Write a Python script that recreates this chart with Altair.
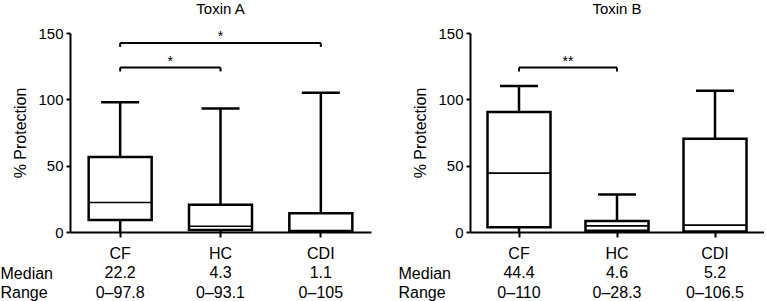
import altair as alt
import pandas as pd

FONT = "Liberation Sans"
groups = ["CF", "HC", "CDI"]

# Toxin A box statistics
a_min = [0, 0, 0]
a_q1 = [9, 1.5, 0.5]
a_median = [22.2, 4.3, 1.1]
a_q3 = [56.5, 20.5, 14.2]
a_max = [97.8, 93.1, 105]
a_median_txt = ["22.2", "4.3", "1.1"]
a_range_txt = ["0–97.8", "0–93.1", "0–105"]

# Toxin B box statistics
b_min = [0, 0, 0]
b_q1 = [3.5, 1.0, 0.3]
b_median = [44.4, 4.6, 5.2]
b_q3 = [90.5, 8.3, 70.2]
b_max = [110, 28.3, 106.5]
b_median_txt = ["44.4", "4.6", "5.2"]
b_range_txt = ["0–110", "0–28.3", "0–106.5"]

# significance brackets
a_br_start = ["CF", "CF"]
a_br_end = ["CDI", "HC"]
a_br_y = [142.5, 124]
a_br_label = ["*", "*"]

b_br_start = ["CF"]
b_br_end = ["HC"]
b_br_y = [124]
b_br_label = ["**"]

STAR_RAISE = 4.5
TICK_DROP = 3


def label_expr(med_txt, rng_txt):
    parts = []
    for g, m, r in zip(groups, med_txt, rng_txt):
        parts.append(f"datum.label == '{g}' ? ['{g}', '{m}', '{r}'] : ")
    return "".join(parts) + "datum.label"


def panel(title, mins, q1s, meds, q3s, maxs, med_txt, rng_txt,
          br_start, br_end, br_y, br_lab, width, height, row_title_x):
    df = pd.DataFrame({"group": groups, "min": mins, "q1": q1s,
                       "median": meds, "q3": q3s, "max": maxs})

    xscale = alt.Scale(type="band", domain=groups, paddingInner=0, paddingOuter=0)
    xaxis = alt.Axis(
        title=["Median", "Range"], titleX=row_title_x, titleY=46,
        titleAlign="left", titleBaseline="alphabetic", titleAngle=0,
        titleFontSize=16, titleFontWeight="normal", titleLineHeight=19.5,
        labelExpr=label_expr(med_txt, rng_txt), labelFontSize=16,
        labelLineHeight=19.5, labelPadding=8, labelAngle=0,
        labelAlign="center", labelBaseline="top",
        tickSize=5, tickWidth=2, domainWidth=2, grid=False,
    )
    yscale = alt.Scale(domain=[0, 150], nice=False, zero=True)
    yaxis = alt.Axis(
        values=[0, 50, 100, 150], title="% Protection", titleFontSize=16,
        titleFontWeight="normal", titlePadding=9, labelFontSize=15,
        tickSize=4, tickWidth=2, domainWidth=2, labelPadding=3, grid=False,
    )

    def X(field="group"):
        return alt.X(f"{field}:N", scale=xscale, axis=xaxis, sort=groups)

    def Y(field):
        return alt.Y(f"{field}:Q", scale=yscale, axis=yaxis)

    base = alt.Chart(df)
    boxes = base.mark_bar(width=63, fill="white", stroke="black", strokeWidth=2.5,
                          opacity=1).encode(x=X(), y=Y("q1"), y2="q3")
    upper = base.mark_rule(color="black", strokeWidth=2.5).encode(
        x=X(), y=Y("q3"), y2="max")
    lower = base.mark_rule(color="black", strokeWidth=2.5).encode(
        x=X(), y=Y("min"), y2="q1")
    caps = base.mark_tick(size=38, thickness=2.5, color="black", opacity=1).encode(
        x=X(), y=Y("max"))
    medians = base.mark_tick(size=63, thickness=1.6, color="black", opacity=1).encode(
        x=X(), y=Y("median"))

    br = pd.DataFrame({"start": br_start, "end": br_end, "y": br_y, "label": br_lab})
    bars_h = alt.Chart(br).mark_rule(color="black", strokeWidth=2).encode(
        x=alt.X("start:N", scale=xscale, axis=xaxis, sort=groups, bandPosition=0.5),
        x2=alt.X2("end:N", bandPosition=0.5),
        y=Y("y"))
    ends = pd.DataFrame({
        "cat": list(br_start) + list(br_end),
        "top": list(br_y) * 2,
    })
    ends["bot"] = ends["top"] - TICK_DROP
    bars_v = alt.Chart(ends).mark_rule(color="black", strokeWidth=2).encode(
        x=alt.X("cat:N", scale=xscale, axis=xaxis, sort=groups, bandPosition=0.5),
        y=Y("top"), y2="bot")

    # star position: midpoint of the bracket
    idx = {g: i for i, g in enumerate(groups)}
    mids = [(idx[s] + idx[e]) / 2 for s, e in zip(br_start, br_end)]
    st = pd.DataFrame({
        "cat": [groups[int(m)] for m in mids],
        "half": [m != int(m) for m in mids],
        "y": [v + STAR_RAISE for v in br_y],
        "label": br_lab,
    })
    stars_c = alt.Chart(st).transform_filter("!datum.half").mark_text(
        fontSize=14, baseline="middle", color="black").encode(
        x=alt.X("cat:N", scale=xscale, axis=xaxis, sort=groups, bandPosition=0.5),
        y=Y("y"), text="label:N")
    stars_h = alt.Chart(st).transform_filter("datum.half").mark_text(
        fontSize=14, baseline="middle", color="black").encode(
        x=alt.X("cat:N", scale=xscale, axis=xaxis, sort=groups, bandPosition=1.0),
        y=Y("y"), text="label:N")

    return alt.layer(boxes, upper, lower, caps, medians, bars_h, bars_v,
                     stars_c, stars_h).properties(
        width=width, height=height,
        title=alt.TitleParams(title, fontSize=15, fontWeight="normal", offset=9,
                              anchor="middle", font=FONT, color="black"),
    )


left = panel("Toxin A", a_min, a_q1, a_median, a_q3, a_max, a_median_txt, a_range_txt,
             a_br_start, a_br_end, a_br_y, a_br_label, 301, 199, -70)
right = panel("Toxin B", b_min, b_q1, b_median, b_q3, b_max, b_median_txt, b_range_txt,
              b_br_start, b_br_end, b_br_y, b_br_label, 294, 199, -72)

chart = alt.hconcat(left, right, spacing=27).properties(
    padding={"left": 0, "top": 2, "right": 0, "bottom": 0}
).configure(font=FONT).configure_view(stroke=None).configure_axis(
    labelFont=FONT, titleFont=FONT, labelColor="black", titleColor="black",
    domainColor="black", tickColor="black",
).configure_text(font=FONT)

chart.save("out.html", embed_options={"renderer": "svg", "actions": False})
